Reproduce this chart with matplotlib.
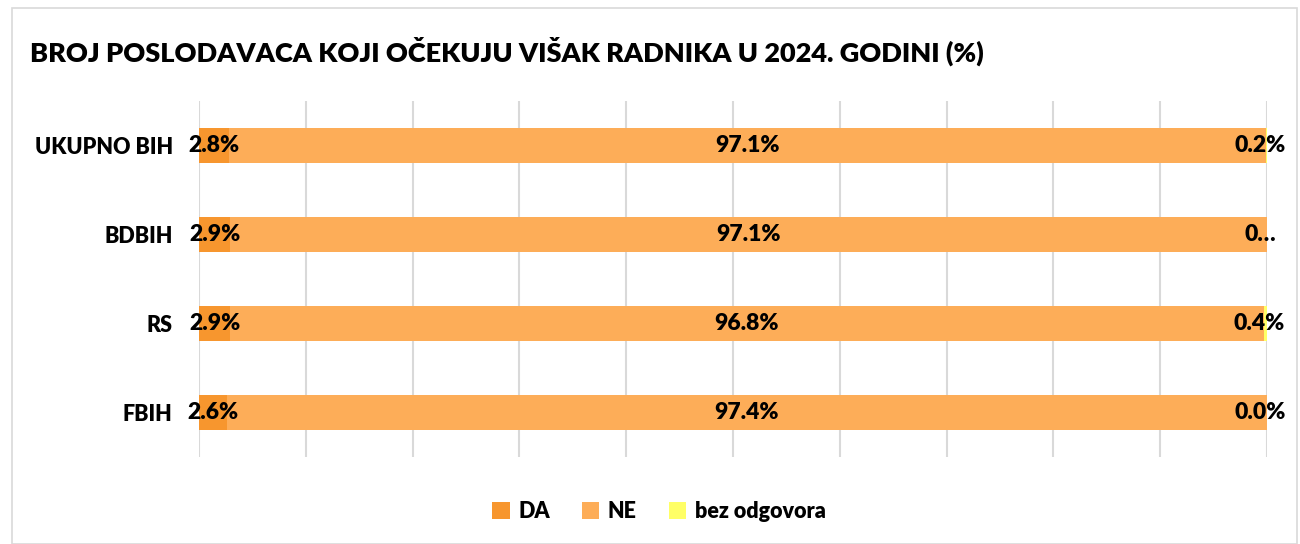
import numpy as np
import matplotlib.pyplot as plt
from matplotlib.patches import Rectangle

categories = ["FBIH", "RS", "BDBIH", "UKUPNO BIH"]
da = [2.6, 2.9, 2.9, 2.8]
ne = [97.4, 96.8, 97.1, 97.1]
bez = [0.0, 0.4, 0.0, 0.2]
bez_labels = ["0.0%", "0.4%", "0…", "0.2%"]
series_names = ["DA", "NE", "bez odgovora"]
colors = ["#F7962E", "#FDAD58", "#FFFF66"]

title = "BROJ POSLODAVACA KOJI OČEKUJU VIŠAK RADNIKA U 2024. GODINI (%)"

plt.rcParams['font.family'] = ['Lato', 'DejaVu Sans']
W = 'heavy'


def main():
    fig = plt.figure(figsize=(13, 5.44), dpi=100)
    ax = fig.add_axes([0.1531, 0.160, 0.8215, 0.654])

    y = np.arange(len(categories))
    da_arr = np.array(da)
    ne_arr = np.array(ne)
    bez_arr = np.array(bez)

    h = 0.39
    ax.barh(y, da_arr, height=h, color=colors[0], label=series_names[0], zorder=3)
    ax.barh(y, ne_arr, left=da_arr, height=h, color=colors[1], label=series_names[1], zorder=3)
    ax.barh(y, bez_arr, left=da_arr + ne_arr, height=h, color=colors[2], label=series_names[2], zorder=3)

    fs = 16.5
    for i in range(len(categories)):
        ax.text(da_arr[i] / 2, y[i], f"{da[i]:.1f}%", ha='center', va='center',
                fontsize=fs, fontweight=W, zorder=5)
        ax.text(da_arr[i] + ne_arr[i] / 2, y[i], f"{ne[i]:.1f}%", ha='center', va='center',
                fontsize=fs, fontweight=W, zorder=5)
        ax.text(da_arr[i] + ne_arr[i] + bez_arr[i] / 2 - 0.6, y[i], bez_labels[i],
                ha='center', va='center', fontsize=fs, fontweight=W, zorder=5)

    ax.set_xlim(0, 100)
    ax.set_ylim(-0.5, len(categories) - 0.5)
    ax.set_xticks(np.arange(0, 101, 10))
    ax.tick_params(axis='x', length=0, labelbottom=False)
    ax.tick_params(axis='y', length=0, pad=19)
    ax.set_yticks(y)
    ax.set_yticklabels(categories, fontsize=15.5, fontweight=W)
    ax.grid(axis='x', color='#D9D9D9', linewidth=1.5, zorder=0)
    for s in ax.spines.values():
        s.set_visible(False)

    fig.text(0.023, 0.905, title, fontsize=19.5, fontweight=W, va='center', ha='left')

    fig.legend(loc='center', bbox_to_anchor=(0.507, 0.06), ncol=3, frameon=False,
               prop={'size': 15.5, 'weight': W}, handlelength=0.8, handleheight=0.8,
               handletextpad=0.4, columnspacing=1.5)

    fig.patches.append(Rectangle((0.009, 0.0), 0.989, 0.985, transform=fig.transFigure,
                                 fill=False, edgecolor='#D9D9D9', linewidth=1.2))

    fig.savefig("out.png", dpi=100)


if __name__ == "__main__":
    main()
